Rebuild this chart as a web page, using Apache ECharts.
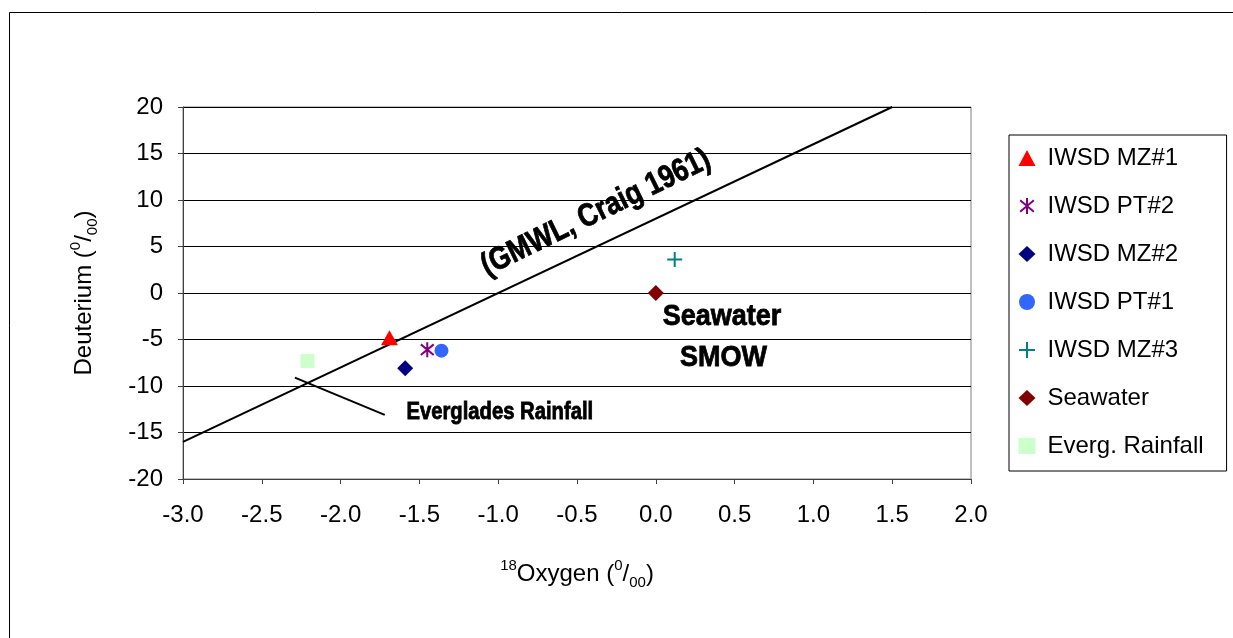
<!DOCTYPE html>
<html>
<head>
    <meta charset="utf-8">
    <title>Deuterium vs 18Oxygen</title>
    <script src="https://cdn.jsdelivr.net/npm/echarts@6/dist/echarts.min.js"></script>
    <style>
        html, body { margin: 0; padding: 0; background: #fff; }
        #chart1 { width: 1233px; height: 638px; }
    </style>
</head>
<body>
<div id="chart1"></div>
<script type="text/javascript">
    // sample names and values
    var seriesNames = ['IWSD MZ#1', 'IWSD PT#2', 'IWSD MZ#2', 'IWSD PT#1', 'IWSD MZ#3', 'Seawater', 'Everg. Rainfall'];
    var oxygen18 = [-1.69, -1.45, -1.59, -1.36, 0.12, 0.0, -2.21];
    var deuterium = [-4.8, -6.1, -8.1, -6.2, 3.6, 0.0, -7.3];

    // global meteoric water line
    var gmwlX = [-3.0, 1.5];
    var gmwlY = [-16, 20];
    // pointer line to the rainfall sample
    var pointerX = [-2.29, -1.72];
    var pointerY = [-9.1, -13.1];

    var xTicks = [-3.0, -2.5, -2.0, -1.5, -1.0, -0.5, 0.0, 0.5, 1.0, 1.5, 2.0];
    var yTicks = [-20, -15, -10, -5, 0, 5, 10, 15, 20];

    // text notes on the plot (data coords)
    var noteText = ['(GMWL, Craig 1961)', 'Seawater', 'SMOW', 'Everglades Rainfall'];
    var noteX = [-0.38, 0.42, 0.43, -0.99];
    var noteY = [8.6, -2.5, -7.0, -12.9];

    var symbols = [
        'triangle',
        'path://M7,0L7,14M1,2L13,12M1,12L13,2',
        'diamond',
        'circle',
        'path://M7,0L7,14M0,7L14,7',
        'diamond',
        'rect'
    ];
    var symbolSizes = [[17, 15], 15, 16, 14, 15, 16, 14];
    var colors = ['#ff0000', '#800080', '#000080', '#3366ff', '#008080', '#800000', '#ccffcc'];
    var strokeOnly = [false, true, false, false, true, false, false];

    var font = 'Liberation Sans, Arial, sans-serif';

    var myChart1 = echarts.init(document.getElementById('chart1'), null, {renderer: 'canvas'});

    var series = [];
    for (var i = 0; i < seriesNames.length; i++) {
        series.push({
            name: seriesNames[i],
            type: 'scatter',
            symbol: symbols[i],
            symbolSize: symbolSizes[i],
            symbolKeepAspect: true,
            itemStyle: strokeOnly[i]
                ? {color: colors[i], borderColor: colors[i], borderWidth: 2, opacity: 1}
                : {color: colors[i], opacity: 1},
            data: [[oxygen18[i], deuterium[i]]],
            z: 5
        });
    }

    var lineData = [];
    for (var j = 0; j < gmwlX.length; j++) lineData.push([gmwlX[j], gmwlY[j]]);
    series.push({
        name: 'GMWL',
        type: 'line',
        data: lineData,
        symbol: 'none',
        lineStyle: {color: '#000', width: 2},
        z: 3
    });
    var ptrData = [];
    for (var k = 0; k < pointerX.length; k++) ptrData.push([pointerX[k], pointerY[k]]);
    series.push({
        name: 'pointer',
        type: 'line',
        data: ptrData,
        symbol: 'none',
        lineStyle: {color: '#000', width: 2},
        z: 3
    });

    var supRich = {
        a: {fontSize: 24, fontFamily: font, color: '#000', lineHeight: 28, verticalAlign: 'bottom'},
        s: {fontSize: 15, fontFamily: font, color: '#000', lineHeight: 28, verticalAlign: 'top'},
        b: {fontSize: 15, fontFamily: font, color: '#000', lineHeight: 28, verticalAlign: 'bottom', padding: [0, 0, -4, 0]}
    };

    var options = {
        backgroundColor: '#fff',
        animation: false,
        grid: {
            left: 183, top: 107, width: 788, height: 372,
            show: true, borderColor: '#808080', borderWidth: 1
        },
        legend: {
            data: seriesNames,
            orient: 'vertical',
            left: 1009, top: 135,
            padding: [11, 23, 13, 9],
            itemWidth: 17, itemHeight: 16,
            itemGap: 24,
            borderColor: '#000', borderWidth: 1,
            backgroundColor: '#fff',
            textStyle: {fontSize: 24, fontFamily: font, color: '#000', lineHeight: 24, padding: [0, 0, 0, 7]}
        },
        xAxis: {
            type: 'value',
            min: xTicks[0], max: xTicks[xTicks.length - 1], interval: 0.5,
            axisLine: {show: true, onZero: false, lineStyle: {color: '#404040', width: 1}},
            axisTick: {show: true, inside: false, length: 5, lineStyle: {color: '#404040'}},
            axisLabel: {
                fontSize: 24, fontFamily: font, color: '#000', margin: 24,
                formatter: function (v) { return v.toFixed(1); }
            },
            splitLine: {show: false}
        },
        yAxis: {
            type: 'value',
            min: yTicks[0], max: yTicks[yTicks.length - 1], interval: 5,
            axisLine: {show: true, onZero: false, lineStyle: {color: '#404040', width: 1}},
            axisTick: {show: true, inside: false, length: 5, lineStyle: {color: '#404040'}},
            axisLabel: {fontSize: 24, fontFamily: font, color: '#000', margin: 20},
            splitLine: {show: true, lineStyle: {color: '#000', width: 1}}
        },
        series: series
    };
    myChart1.setOption(options);

    // axis titles, border and text notes
    var graphics = [
        {
            type: 'rect', silent: true, z: -1,
            shape: {x: 9.5, y: 12.5, width: 1400, height: 800},
            style: {fill: 'none', stroke: '#000', lineWidth: 1}
        },
        {
            type: 'text', x: 82, y: 293, rotation: Math.PI / 2,
            style: {
                text: '{a|Deuterium (}{s|0}{a|/}{b|00}{a|)}', rich: supRich,
                align: 'center', verticalAlign: 'middle'
            }
        },
        {
            type: 'text', x: 577, y: 572,
            style: {
                text: '{s|18}{a|Oxygen (}{s|0}{a|/}{b|00}{a|)}', rich: supRich,
                align: 'center', verticalAlign: 'middle'
            }
        }
    ];
    // bold narrow look: Liberation Sans Bold squeezed horizontally
    var noteSize = [32, 30, 30, 23];
    var noteSqueeze = [0.83, 0.9, 0.9, 0.88];
    var noteRot = [26 * Math.PI / 180, 0, 0, 0];
    for (var n = 0; n < noteText.length; n++) {
        var p = myChart1.convertToPixel({gridIndex: 0}, [noteX[n], noteY[n]]);
        graphics.push({
            type: 'text', x: p[0], y: p[1], rotation: noteRot[n], scaleX: noteSqueeze[n], z: 10,
            style: {
                text: noteText[n], fontSize: noteSize[n], fontWeight: 'bold', fontFamily: font,
                fill: '#000', stroke: '#000', lineWidth: 0.8,
                align: 'center', verticalAlign: 'middle'
            }
        });
    }
    myChart1.setOption({graphic: graphics});

    window.addEventListener('resize', function () {
        myChart1.resize();
    });
</script>
</body>
</html>
